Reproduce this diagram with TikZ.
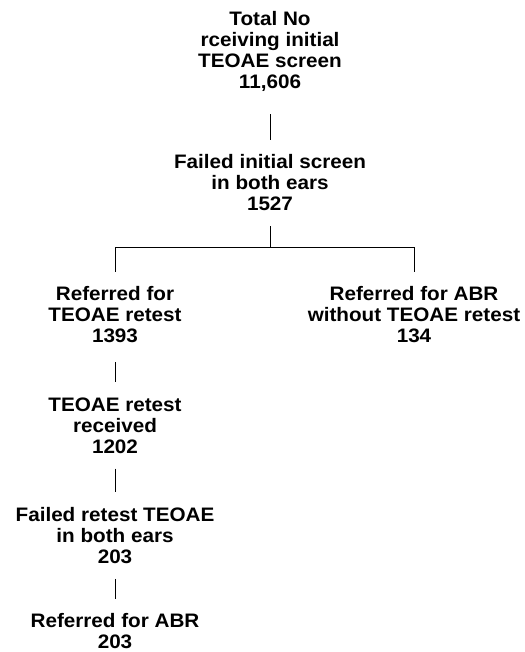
\documentclass[tikz,border=0pt]{standalone}
\usepackage{fontspec}
\setmainfont{Liberation Sans}[FakeStretch=1.06]
\usepackage{tikz}
\usetikzlibrary{positioning}
\tikzset{
box/.style={align=center, inner xsep=2pt, inner ysep=15pt, font=\fontsize{19.5}{21}\selectfont\bfseries}, % text only, no frame
link/.style={draw, line width=0.8pt}, % plain connecting lines
}

\begin{document}
\begin{tikzpicture}[x=1pt, y=1pt]
    \useasboundingbox (0,0) rectangle (524,-652);

    \node[box] (total) at (270,-51) {Total No\\rceiving initial\\TEOAE screen\\11,606};
    \node[box, below of=total, node distance=132pt] (failed) {Failed initial screen\\in both ears\\1527};
    \coordinate[below of=failed, node distance=64pt] (split);
    \node[box, below of=failed, node distance=132pt, xshift=-155pt] (referred) {Referred for\\TEOAE retest\\1393};
    \node[box, below of=failed, node distance=132pt, xshift=144pt] (noretest) {Referred for ABR\\without TEOAE retest\\134};
    \node[box, below of=referred, node distance=110.5pt] (received) {TEOAE retest\\received\\1202};
    \node[box, below of=received, node distance=110pt] (failedre) {Failed retest TEOAE\\in both ears\\203};
    \node[box, below of=failedre, node distance=96pt] (abr) {Referred for ABR\\203};

    \draw[link, shorten <=8pt] (total) -- (failed);
    \draw[link] (failed) -- (split);
    \draw[link] (split) -| (referred);
    \draw[link] (split) -| (noretest);
    \draw[link, shorten <=4pt] (referred) -- (received);
    \draw[link] (received) -- (failedre);
    \draw[link] (failedre) -- (abr);

  \end{tikzpicture}
\end{document}
